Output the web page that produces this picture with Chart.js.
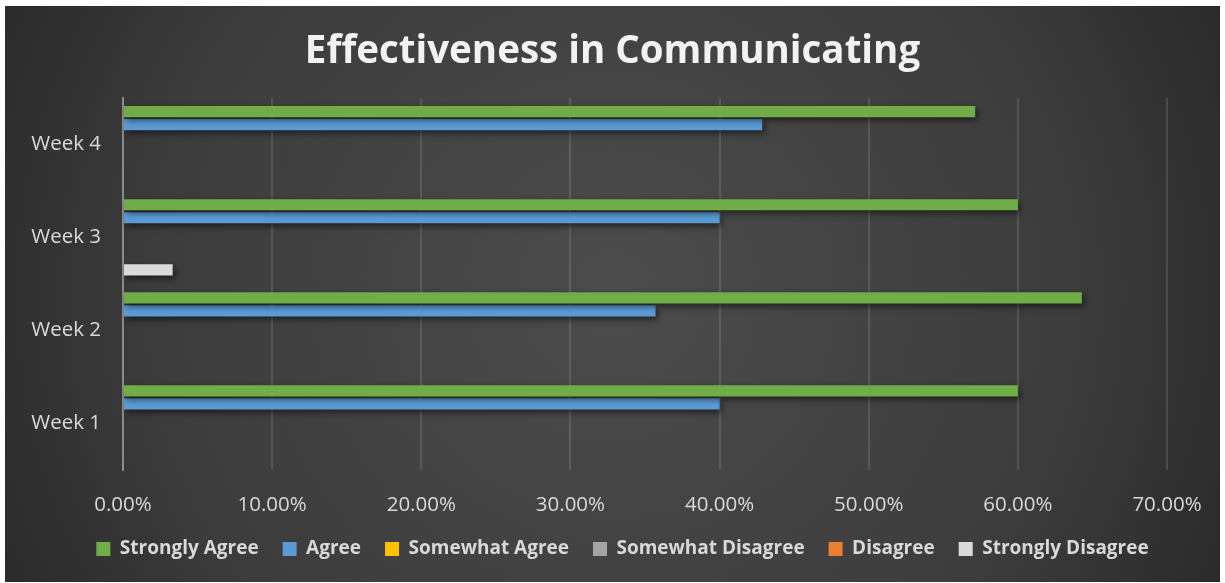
<!DOCTYPE html>
<html>
<head>
<meta charset="utf-8">
<script src="https://cdn.jsdelivr.net/npm/chart.js@4.4.1/dist/chart.umd.min.js"></script>
<style>
  html, body { margin: 0; padding: 0; background: #ffffff; }
  #wrap { position: absolute; left: 5px; top: 6px; width: 1215px; height: 576px; }
</style>
</head>
<body>
<div id="wrap"><canvas id="effChart"></canvas></div>
<script>
const weeks = ['Week 1', 'Week 2', 'Week 3', 'Week 4'];
const stronglyAgree = [60.0, 64.29, 60.0, 57.14];
const agree = [40.0, 35.71, 40.0, 42.86];
const somewhatAgree = [0, 0, 0, 0];
const somewhatDisagree = [0, 0, 0, 0];
const disagree = [0, 0, 0, 0];
const stronglyDisagree = [0, 0, 3.33, 0];
const xTicks = [0, 10, 20, 30, 40, 50, 60, 70];

const textColor = '#d9d9d9';

// dark radial backdrop like the Excel style
const backdrop = {
  id: 'backdrop',
  beforeDraw(chart) {
    const { ctx, width, height } = chart;
    const g = ctx.createRadialGradient(width * 0.5, height * 0.5, 20, width * 0.5, height * 0.5, width * 0.62);
    g.addColorStop(0, '#4b4b4b');
    g.addColorStop(0.6, '#3c3c3c');
    g.addColorStop(1, '#242424');
    ctx.save();
    ctx.fillStyle = g;
    ctx.fillRect(0, 0, width, height);
    ctx.restore();
  },
};

// soft shadow under the bars
const barShadow = {
  id: 'barShadow',
  beforeDatasetsDraw(chart) {
    const ctx = chart.ctx;
    ctx.save();
    ctx.shadowColor = 'rgba(0,0,0,0.55)';
    ctx.shadowBlur = 6;
    ctx.shadowOffsetX = 2;
    ctx.shadowOffsetY = 3;
  },
  afterDatasetsDraw(chart) {
    chart.ctx.restore();
  },
};

// title and legend centred on the canvas, not on the padded box
function centerBox(box, cx) {
  const shift = cx - (box.left + box.right) / 2;
  box.left += shift;
  box.right += shift;
}
const centerBlocks = {
  id: 'centerBlocks',
  afterLayout(chart) {
    centerBox(chart.titleBlock, chart.width / 2);
    centerBox(chart.legend, chart.width / 2 + 10);
  },
};

const series = [
  { label: 'Strongly Agree', data: stronglyAgree, color: '#70ad47' },
  { label: 'Agree', data: agree, color: '#5b9bd5' },
  { label: 'Somewhat Agree', data: somewhatAgree, color: '#ffc000' },
  { label: 'Somewhat Disagree', data: somewhatDisagree, color: '#a5a5a5' },
  { label: 'Disagree', data: disagree, color: '#ed7d31' },
  { label: 'Strongly Disagree', data: stronglyDisagree, color: '#dadada' },
];

new Chart(document.getElementById('effChart'), {
  type: 'bar',
  data: {
    labels: weeks,
    datasets: series.map((s) => ({
      label: s.label,
      data: s.data,
      backgroundColor: s.color,
      borderWidth: 0,
      categoryPercentage: 0.84,
      barPercentage: 0.86,
    })),
  },
  options: {
    indexAxis: 'y',
    responsive: true,
    maintainAspectRatio: false,
    animation: false,
    layout: { padding: { left: 20, right: 53, top: 0, bottom: 13.5 } },
    scales: {
      x: {
        min: 0,
        max: 70,
        afterBuildTicks: (axis) => {
          axis.ticks = xTicks.map((v) => ({ value: v }));
        },
        afterFit: (axis) => {
          axis.height = 45.5;
          axis.paddingLeft = 0;
          axis.paddingRight = 0;
        },
        grid: {
          color: (c) => (c.tick && c.tick.value === 0 ? 'rgba(0,0,0,0)' : 'rgba(255,255,255,0.12)'),
          lineWidth: 2,
          drawTicks: false,
        },
        border: { display: false },
        ticks: {
          color: textColor,
          padding: 23,
          font: { family: 'Open Sans', size: 20.5 },
          callback: (v) => Number(v).toFixed(2) + '%',
        },
      },
      y: {
        reverse: true,
        afterFit: (axis) => {
          axis.width = 98;
        },
        grid: { display: false, drawTicks: false },
        border: { display: true, color: '#8a8a8a', width: 2 },
        ticks: {
          color: textColor,
          padding: 22,
          font: { family: 'Open Sans', size: 20.5 },
        },
      },
    },
    plugins: {
      title: {
        display: true,
        text: 'Effectiveness in Communicating',
        color: '#f2f2f2',
        font: { family: 'Open Sans', size: 38.5, weight: 'bold' },
        padding: { top: 23, bottom: 22.5 },
      },
      legend: {
        position: 'bottom',
        labels: {
          color: textColor,
          boxWidth: 14,
          boxHeight: 14,
          padding: 24,
          font: { family: 'Open Sans', size: 19, weight: 'bold' },
        },
      },
      tooltip: { enabled: false },
    },
  },
  plugins: [backdrop, barShadow, centerBlocks],
});
</script>
</body>
</html>
